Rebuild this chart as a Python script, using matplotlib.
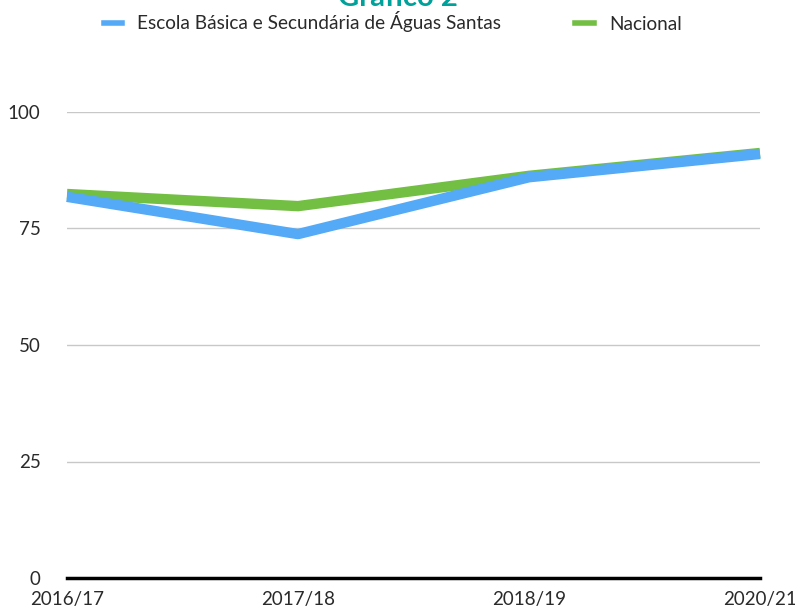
import matplotlib.pyplot as plt
from matplotlib.lines import Line2D

plt.rcParams['font.family'] = ['Lato', 'DejaVu Sans']

anos = ['2016/17', '2017/18', '2018/19', '2020/21']
escola = [81.8, 73.8, 86.0, 91.0]
nacional = [82.4, 79.8, 86.3, 91.2]
yticks = [0, 25, 50, 75, 100]

azul = '#55aaf7'
verde = '#72bf44'
texto = '#2a2a2a'

fig = plt.figure(figsize=(7.95, 6.10), dpi=100)
ax = fig.add_axes([67/795, 1-578/610, (760-67)/795, (578-112)/610])

x = range(len(anos))
ax.plot(x, nacional, color=verde, lw=7.5, solid_capstyle='butt', clip_on=False)
ax.plot(x, escola, color=azul, lw=7.5, solid_capstyle='butt', clip_on=False)

ax.set_xlim(0, len(anos) - 1)
ax.set_ylim(0, 100)
ax.set_yticks(yticks)
ax.set_yticklabels([str(v) for v in yticks], fontsize=13.5, color=texto)
ax.set_xticks(list(x))
ax.set_xticklabels(anos, fontsize=13.5, color=texto)
ax.tick_params(axis='both', length=0)
ax.tick_params(axis='x', pad=9)
ax.tick_params(axis='y', pad=19)
ax.grid(axis='y', color='#c8c8c8', lw=1)
ax.set_axisbelow(True)
for s in ['top', 'right', 'left']:
    ax.spines[s].set_visible(False)
ax.spines['bottom'].set_linewidth(2.5)
ax.spines['bottom'].set_color('black')

fig.text(0.5, 1.004, 'Gráfico 2', ha='center', va='center', fontsize=21,
         fontweight='bold', color='#00a19a')

handles = [Line2D([], [], color=azul, lw=4), Line2D([], [], color=verde, lw=4)]
fig.legend(handles, ['Escola Básica e Secundária de Águas Santas', 'Nacional'],
           loc='center', bbox_to_anchor=(0.494, 1-22/610), ncol=2, frameon=False,
           fontsize=13.7, labelcolor=texto, handlelength=0.95, columnspacing=3.9,
           handletextpad=0.8)

fig.savefig('out.png', dpi=100)
